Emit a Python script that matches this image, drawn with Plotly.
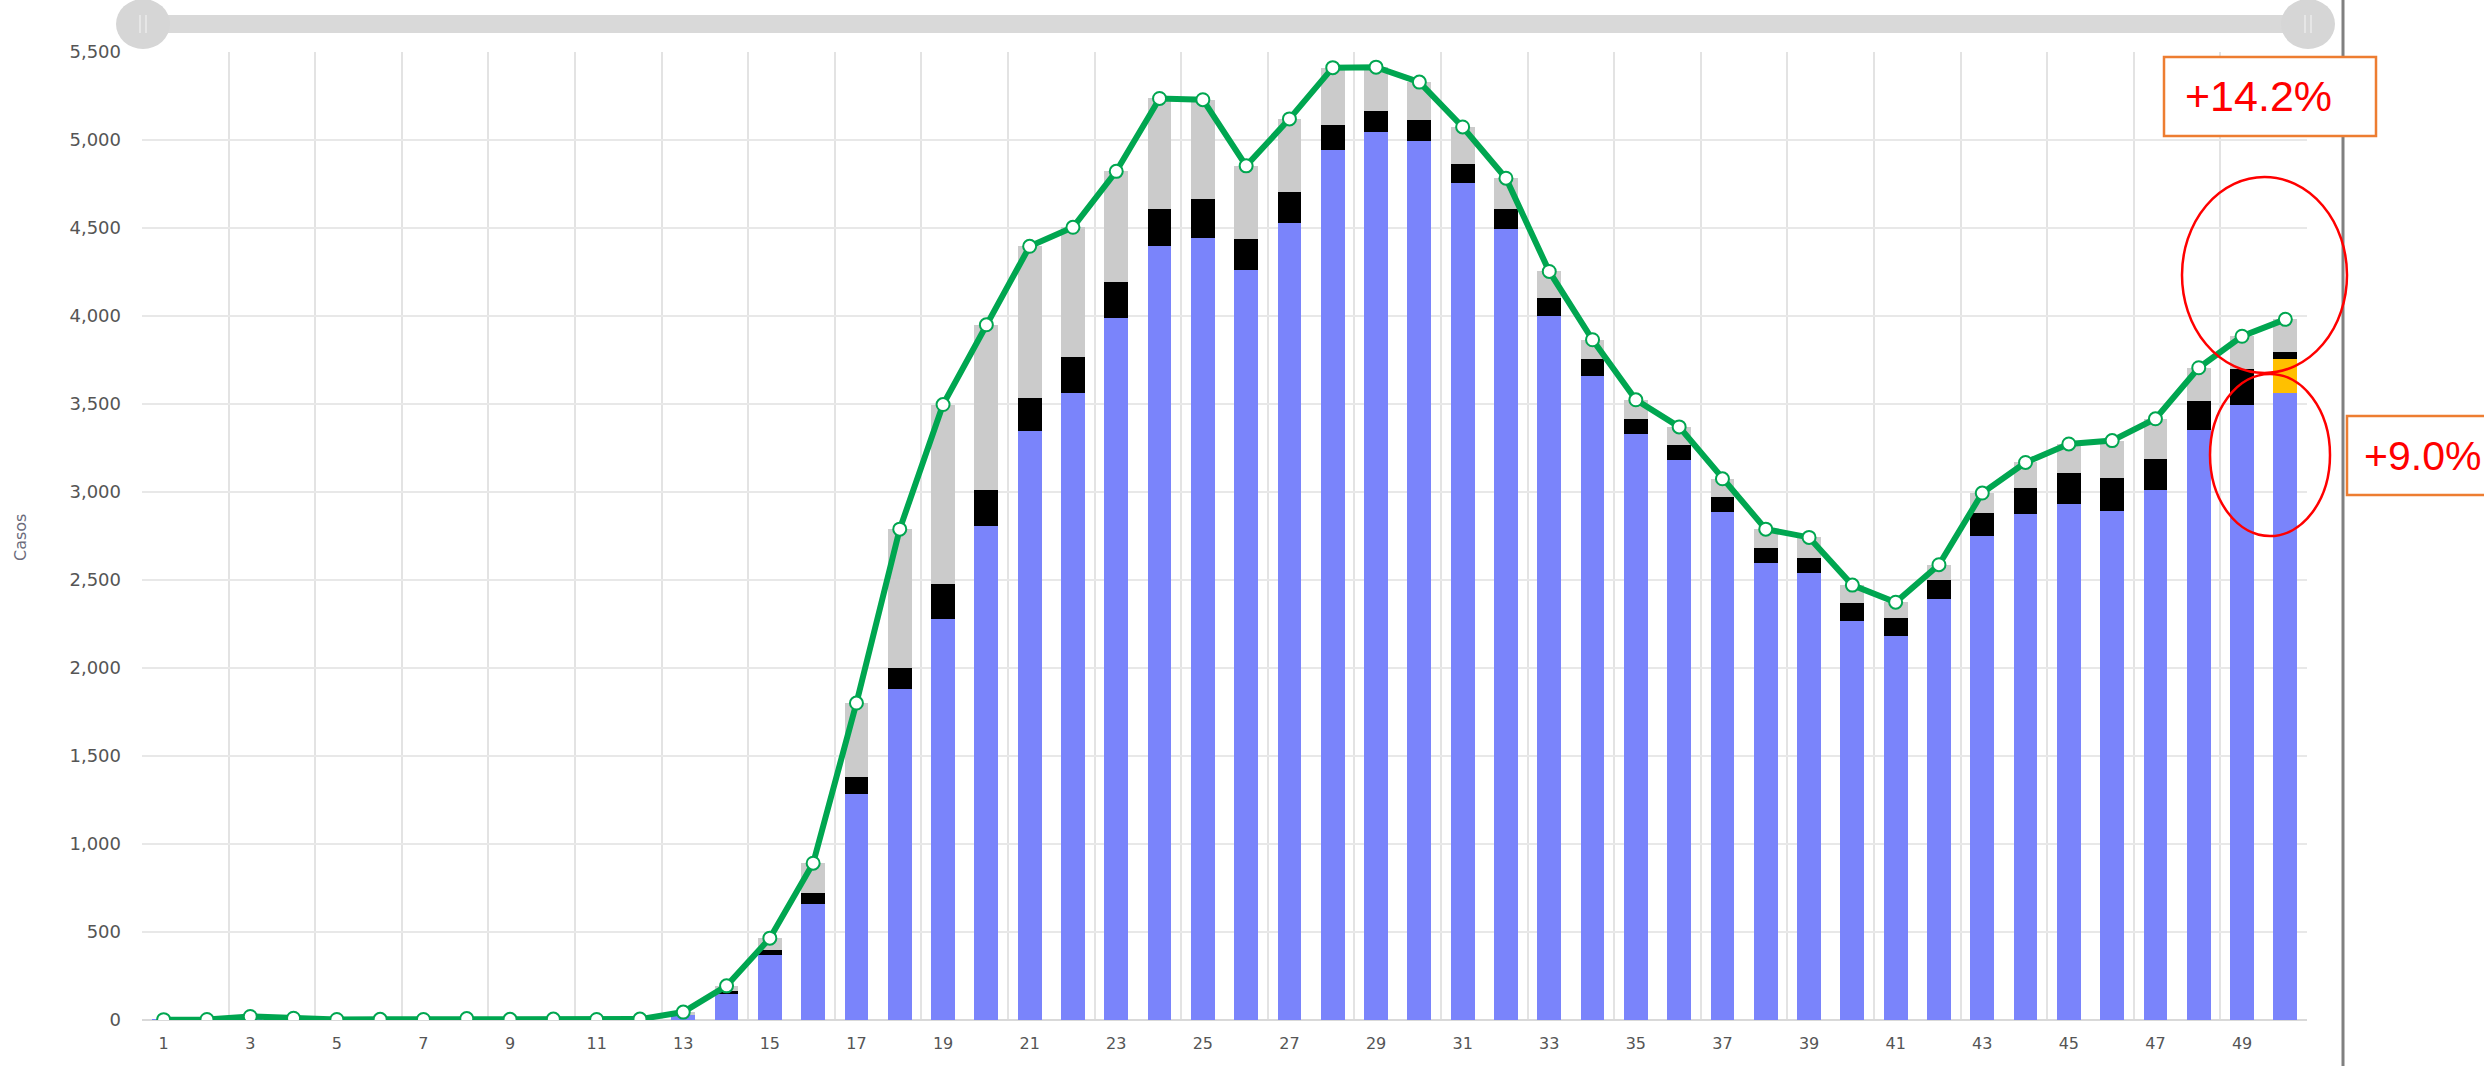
import plotly.graph_objects as go

# days shown on the x axis
dias = list(range(1, 51))
ticks_x = list(range(1, 50, 2))

# stacked segments (casos)
azul = [2, 3, 20, 10, 3, 4, 3, 8, 4, 5, 3, 5,
        30, 147, 368, 658, 1286, 1878, 2277, 2808, 3346, 3563,
        3989, 4396, 4446, 4260, 4531, 4942, 5043, 4996, 4756, 4493,
        4001, 3660, 3331, 3184, 2885, 2595, 2537, 2266, 2181, 2394,
        2750, 2874, 2932, 2893, 3013, 3350, 3493, 3563]
amarillo = [0] * 49 + [194]
negro = [0] * 12 + [4, 16, 27, 66, 97, 124, 202, 205, 186, 205,
                    205, 213, 221, 175, 171, 143, 124, 116, 105, 116,
                    104, 97, 85, 85, 86, 85, 89, 104, 104, 104,
                    128, 147, 174, 186, 174, 167, 206, 38]
gris = [0] * 12 + [11, 31, 70, 167, 418, 787, 1018, 937, 864, 736,
                   628, 627, 562, 418, 418, 326, 247, 217, 213, 174,
                   148, 108, 108, 101, 104, 109, 116, 101, 89, 89,
                   116, 147, 167, 213, 229, 189, 186, 186]
total = [a + y + n + g for a, y, n, g in zip(azul, amarillo, negro, gris)]

y_ticks = list(range(0, 5501, 500))

# plot area in pixels
L, R, T, B = 142, 2307, 52, 1020


def px(x):
    return (x - L) / (R - L)


def py(y):
    return (B - y) / (B - T)


fig = go.Figure()

fig.add_trace(go.Bar(x=dias, y=azul, marker=dict(color='#7A84FB', line_width=0), width=0.55, name='azul'))
fig.add_trace(go.Bar(x=dias, y=amarillo, marker=dict(color='#FFC000', line_width=0), width=0.55, name='amarillo'))
fig.add_trace(go.Bar(x=dias, y=negro, marker=dict(color='#000000', line_width=0), width=0.55, name='negro'))
fig.add_trace(go.Bar(x=dias, y=gris, marker=dict(color='#CBCBCB', line_width=0), width=0.55, name='gris'))

fig.add_trace(go.Scatter(x=dias, y=total,
                         mode='lines+markers',
                         line=dict(color='#00A650', width=6),
                         marker=dict(size=13, color='white', line=dict(color='#00A650', width=2)),
                         name='total'))

fig.update_xaxes(range=[0.5, 50.5],
                 tickvals=ticks_x,
                 showgrid=False,
                 zeroline=False,
                 minor=dict(tick0=0.5, dtick=2, showgrid=True, gridcolor='#E3E3E3', gridwidth=2),
                 tickfont=dict(family='DejaVu Sans', size=16, color='#555555'),
                 ticklabelstandoff=12)

fig.update_yaxes(range=[0, 5500],
                 tickvals=y_ticks,
                 tickformat=',',
                 gridcolor='#E8E8E8',
                 gridwidth=2,
                 zeroline=True,
                 zerolinecolor='#D9D9D9',
                 zerolinewidth=2,
                 tickfont=dict(family='DejaVu Sans', size=18, color='#555555'),
                 ticklabelstandoff=20)

shapes = []
# slider at the top
shapes.append(dict(type='rect', xref='paper', yref='paper',
                   x0=px(150), x1=px(2300), y0=py(33), y1=py(15),
                   fillcolor='#D9D9D9', line_width=0, layer='above'))
for cx in (143, 2308):
    shapes.append(dict(type='circle', xref='paper', yref='paper',
                       x0=px(cx - 27), x1=px(cx + 27), y0=py(49), y1=py(-1),
                       fillcolor='#D6D6D6', line_width=0, layer='above'))
    for dx in (-3, 3):
        shapes.append(dict(type='line', xref='paper', yref='paper',
                           x0=px(cx + dx), x1=px(cx + dx), y0=py(33), y1=py(15),
                           line=dict(color='#E6E6E6', width=2), layer='above'))

# separator line at the right
shapes.append(dict(type='line', xref='paper', yref='paper',
                   x0=px(2343), x1=px(2343), y0=py(1066), y1=py(0),
                   line=dict(color='#808080', width=3), layer='above'))

# highlight boxes and ellipses
shapes.append(dict(type='rect', xref='paper', yref='paper',
                   x0=px(2164), x1=px(2376), y0=py(136), y1=py(57),
                   fillcolor='white', line=dict(color='#ED7D31', width=2.5), layer='above'))
shapes.append(dict(type='rect', xref='paper', yref='paper',
                   x0=px(2347), x1=px(2500), y0=py(495), y1=py(416),
                   fillcolor='white', line=dict(color='#ED7D31', width=2.5), layer='above'))
shapes.append(dict(type='circle', xref='paper', yref='paper',
                   x0=px(2182), x1=px(2347), y0=py(373), y1=py(177),
                   line=dict(color='#FF0000', width=2.5), layer='above'))
shapes.append(dict(type='circle', xref='paper', yref='paper',
                   x0=px(2210), x1=px(2330), y0=py(536), y1=py(374),
                   line=dict(color='#FF0000', width=2.5), layer='above'))

annotations = [
    dict(text='+14.2%', xref='paper', yref='paper', x=px(2183), y=py(96),
         xanchor='left', yanchor='middle', showarrow=False,
         font=dict(family='Liberation Sans', size=43, color='#FF0000')),
    dict(text='+9.0%', xref='paper', yref='paper', x=px(2362), y=py(456),
         xanchor='left', yanchor='middle', showarrow=False,
         font=dict(family='Liberation Sans', size=41, color='#FF0000')),
    dict(text='Casos', xref='paper', yref='paper', x=px(20), y=py(537),
         xanchor='center', yanchor='middle', showarrow=False, textangle=-90,
         font=dict(family='DejaVu Sans', size=16, color='#6B6B7B')),
]

fig.update_layout(width=2484,
                  height=1066,
                  margin=dict(l=L, r=2484 - R, t=T, b=1066 - B),
                  barmode='stack',
                  bargap=0,
                  plot_bgcolor='white',
                  paper_bgcolor='white',
                  showlegend=False,
                  shapes=shapes,
                  annotations=annotations)

fig.write_html("out.html", config={'displayModeBar': False},
               post_script="document.body.style.margin='0';")
